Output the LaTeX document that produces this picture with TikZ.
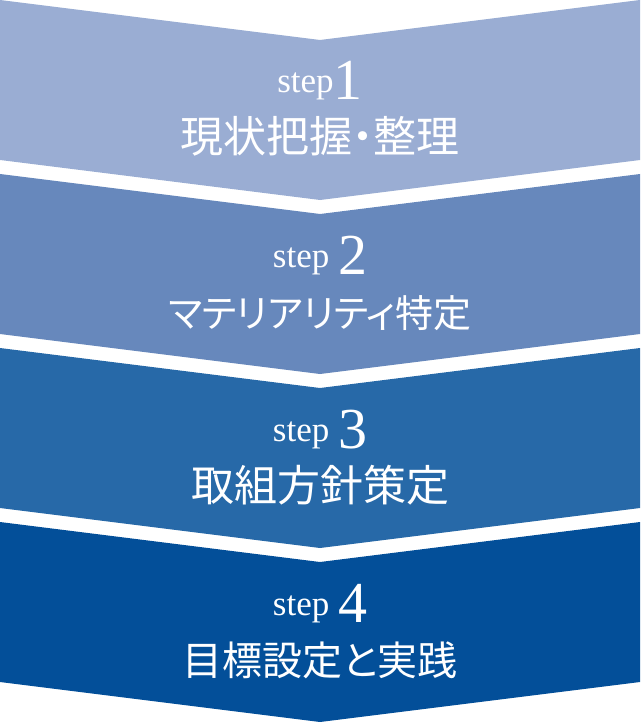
\documentclass[tikz,border=0pt]{standalone}
\usepackage{fontspec}
\setmainfont{Liberation Serif}
\newfontfamily\jp[RawFeature=+palt]{Noto Sans CJK JP}
\definecolor{cA}{HTML}{9AADD3}
\definecolor{cB}{HTML}{6788BC}
\definecolor{cC}{HTML}{2769A8}
\definecolor{cD}{HTML}{034F99}
\newcommand{\stepword}{\fontsize{35}{40}\selectfont\raisebox{7pt}{step}}
\newcommand{\stepnum}[1]{\fontsize{58}{60}\selectfont #1}
\tikzset{
  chev/.style={fill=#1, draw=none},
  steplabel/.style={text=white, anchor=base, inner sep=0pt},
  jplabel/.style={text=white, anchor=base, inner sep=0pt, font=\jp},
}
\begin{document}
\begin{tikzpicture}[x=1pt, y=-1pt]
\useasboundingbox (0,0) rectangle (640,722);
\foreach \k/\c in {0/cA,1/cB,2/cC,3/cD}{
  \fill[chev=\c] (0,174*\k) -- (320,174*\k+40) -- (640,174*\k) -- (640,174*\k+160) -- (320,174*\k+200) -- (0,174*\k+160) -- cycle;
}
\node[steplabel] (s1) at (320,100) {\stepword\stepnum{1}};
\node[steplabel] (s2) at (320,274) {\stepword\ \stepnum{2}};
\node[steplabel] (s3) at (320,448) {\stepword\ \stepnum{3}};
\node[steplabel] (s4) at (320,622) {\stepword\ \stepnum{4}};
\node[jplabel] (j1) at (320,153) {\fontsize{43}{45}\selectfont 現状把握・整理};
\node[jplabel] (j2) at (320,327) {\fontsize{38}{40}\selectfont マテリアリティ特定};
\node[jplabel] (j3) at (320,501) {\fontsize{43}{45}\selectfont 取組方針策定};
\node[jplabel] (j4) at (320,675) {\fontsize{40}{42}\selectfont 目標設定と実践};
\end{tikzpicture}
\end{document}
